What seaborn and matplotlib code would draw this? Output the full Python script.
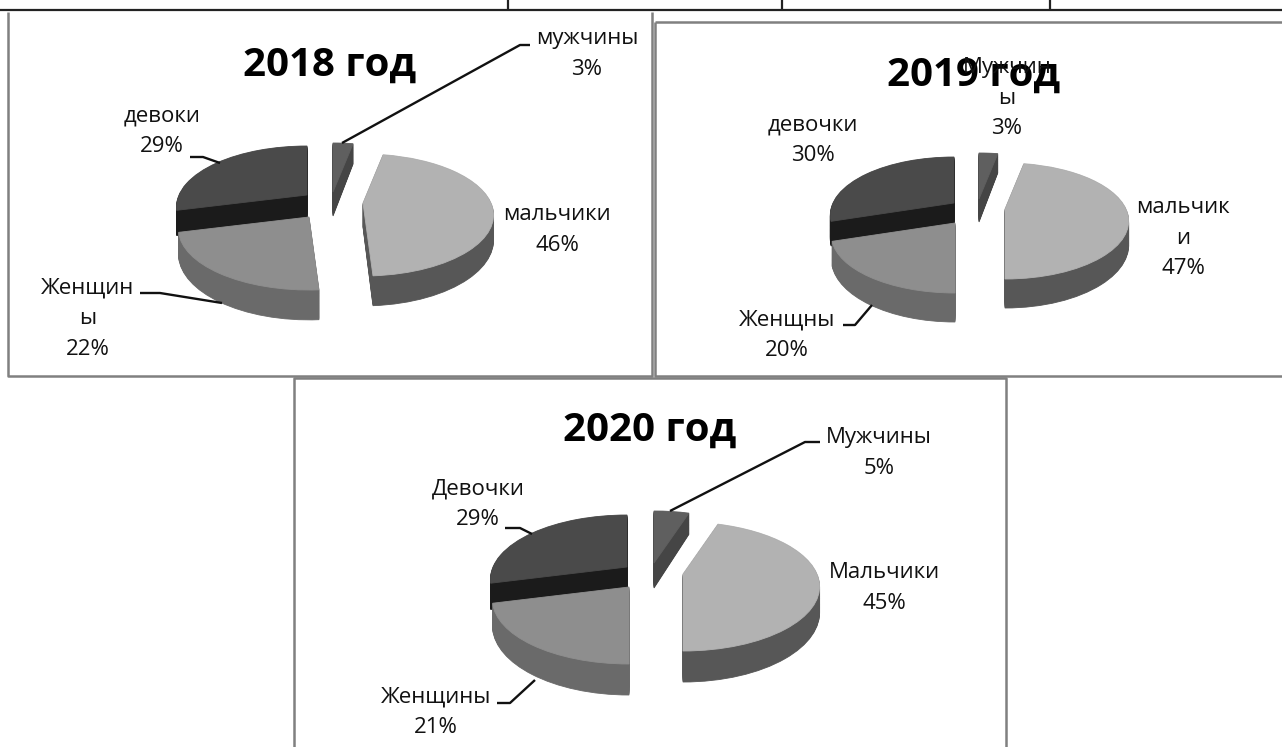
import numpy as np
import seaborn as sns
import matplotlib
matplotlib.use("Agg")
import matplotlib.pyplot as plt
from matplotlib.lines import Line2D
from matplotlib.transforms import Affine2D, Transform

sns.set_theme(style="white")
plt.rcParams['font.family'] = ['Open Sans', 'DejaVu Sans']

W, H = 1282, 747

# values, clockwise from 12 o'clock
values_2018 = [3, 46, 22, 29]
values_2019 = [3, 47, 20, 30]
values_2020 = [5, 45, 21, 29]

names_2018 = ["мужчины", "мальчики", "Женщин\nы", "девоки"]
names_2019 = ["Мужчин\nы", "мальчик\nи", "Женщны", "девочки"]
names_2020 = ["Мужчины", "Мальчики", "Женщины", "Девочки"]

top_colors = sns.color_palette(["#5f5f5f", "#b2b2b2", "#8e8e8e", "#4a4a4a"])
side_colors = sns.color_palette(["#454545", "#575757", "#6a6a6a", "#1b1b1b"])

# draw order: back slices first
order = [3, 0, 1, 2]

panels = [
    dict(title="2018 год", title_xy=(330, 65), values=values_2018, names=names_2018,
         rx=128, up=49, down=73, depth=24,
         apex=[(333, 192), (363, 203), (309, 217), (307, 195)],
         label_xy=[(587, 54), (557, 230), (88, 319), (162, 131)],
         leaders=[[(342, 143), (520, 45), (530, 45)],
                  [(190, 157), (203, 157), (220, 163)],
                  [(140, 293), (160, 293), (222, 303)]]),
    dict(title="2019 год", title_xy=(974, 75), values=values_2019, names=names_2019,
         rx=121, up=46, down=70, depth=23,
         apex=[(979, 199), (1005, 209), (955, 223), (954, 203)],
         label_xy=[(1007, 98), (1183, 238), (787, 335), (813, 140)],
         leaders=[[(843, 325), (855, 325), (872, 305)]]),
    dict(title="2020 год", title_xy=(650, 430), values=values_2020, names=names_2020,
         rx=134, up=52, down=77, depth=25,
         apex=[(654, 563), (683, 574), (629, 587), (627, 567)],
         label_xy=[(879, 453), (884, 588), (436, 712), (478, 504)],
         leaders=[[(670, 511), (805, 442), (820, 442)],
                  [(505, 528), (520, 528), (532, 534)],
                  [(497, 703), (510, 703), (535, 680)]]),
]

# frame lines of the scanned page
frame_lines = [
    [(0, 10), (W, 10)],
    [(508, 0), (508, 10)], [(782, 0), (782, 10)], [(1050, 0), (1050, 10)],
]
box_lines = [
    [(8, 12), (8, 376), (652, 376), (652, 12)],
    [(655, 22), (655, 376), (W, 376)],
    [(655, 22), (W, 22)],
    [(294, 747), (294, 378), (1006, 378), (1006, 747)],
]


class Tilt(Transform):
    # unit pie seen from above at an angle, far side smaller
    input_dims = output_dims = 2

    def __init__(self, rx, up, down, drop):
        super().__init__()
        self.rx = rx
        self.b = (down - up) / (down + up)
        self.a = 2 * up * down / (up + down)
        self.drop = drop

    def transform_non_affine(self, values):
        x, y = values[:, 0], values[:, 1]
        w = 1 + self.b * y
        return np.column_stack([self.rx * x / w, (self.a * y - self.drop) / w])


def draw_slice(ax, value, start, apex, tilt, color):
    wedges, _ = ax.pie([value, 100 - value], startangle=start, counterclock=False,
                       colors=[color, color], radius=1,
                       wedgeprops=dict(linewidth=0.6, edgecolor=color))
    wedges[1].remove()
    move = Affine2D().translate(apex[0], H - apex[1])
    wedges[0].set_transform(tilt + move + ax.transData)
    wedges[0].set_clip_on(False)


def draw_panel(ax, p):
    starts = 90 - 3.6 * np.cumsum([0] + p["values"][:-1])
    for i in order:
        for drop in np.linspace(p["depth"], 0, 30):
            tilt = Tilt(p["rx"], p["up"], p["down"], drop)
            color = top_colors[i] if drop == 0 else side_colors[i]
            draw_slice(ax, p["values"][i], starts[i], p["apex"][i], tilt, color)

    x, y = p["title_xy"]
    ax.text(x, H - y, p["title"], ha="center", va="center", fontsize=29,
            fontweight="bold", color="black", zorder=5)
    for name, value, (x, y) in zip(p["names"], p["values"], p["label_xy"]):
        ax.text(x, H - y, f"{name}\n{value}%", ha="center", va="center", fontsize=16,
                color="#111111", linespacing=1.62, multialignment="center", zorder=5)
    for pts in p["leaders"]:
        add_line(ax, pts, "#111111", 1.7)


def add_line(ax, pts, color, lw):
    xs, ys = zip(*pts)
    ax.add_line(Line2D(xs, H - np.array(ys), color=color, lw=lw,
                       solid_capstyle="butt", zorder=4, clip_on=False))


fig = plt.figure(figsize=(W / 100, H / 100), dpi=100, facecolor="white")
ax = fig.add_axes([0, 0, 1, 1])

for pts in frame_lines:
    add_line(ax, pts, "#222222", 1.6)
for pts in box_lines:
    add_line(ax, pts, "#808080", 1.8)
for p in panels:
    draw_panel(ax, p)

ax.set_aspect("auto")
ax.set_xlim(0, W)
ax.set_ylim(0, H)
ax.axis("off")

fig.savefig("out.png", dpi=100, facecolor="white")
